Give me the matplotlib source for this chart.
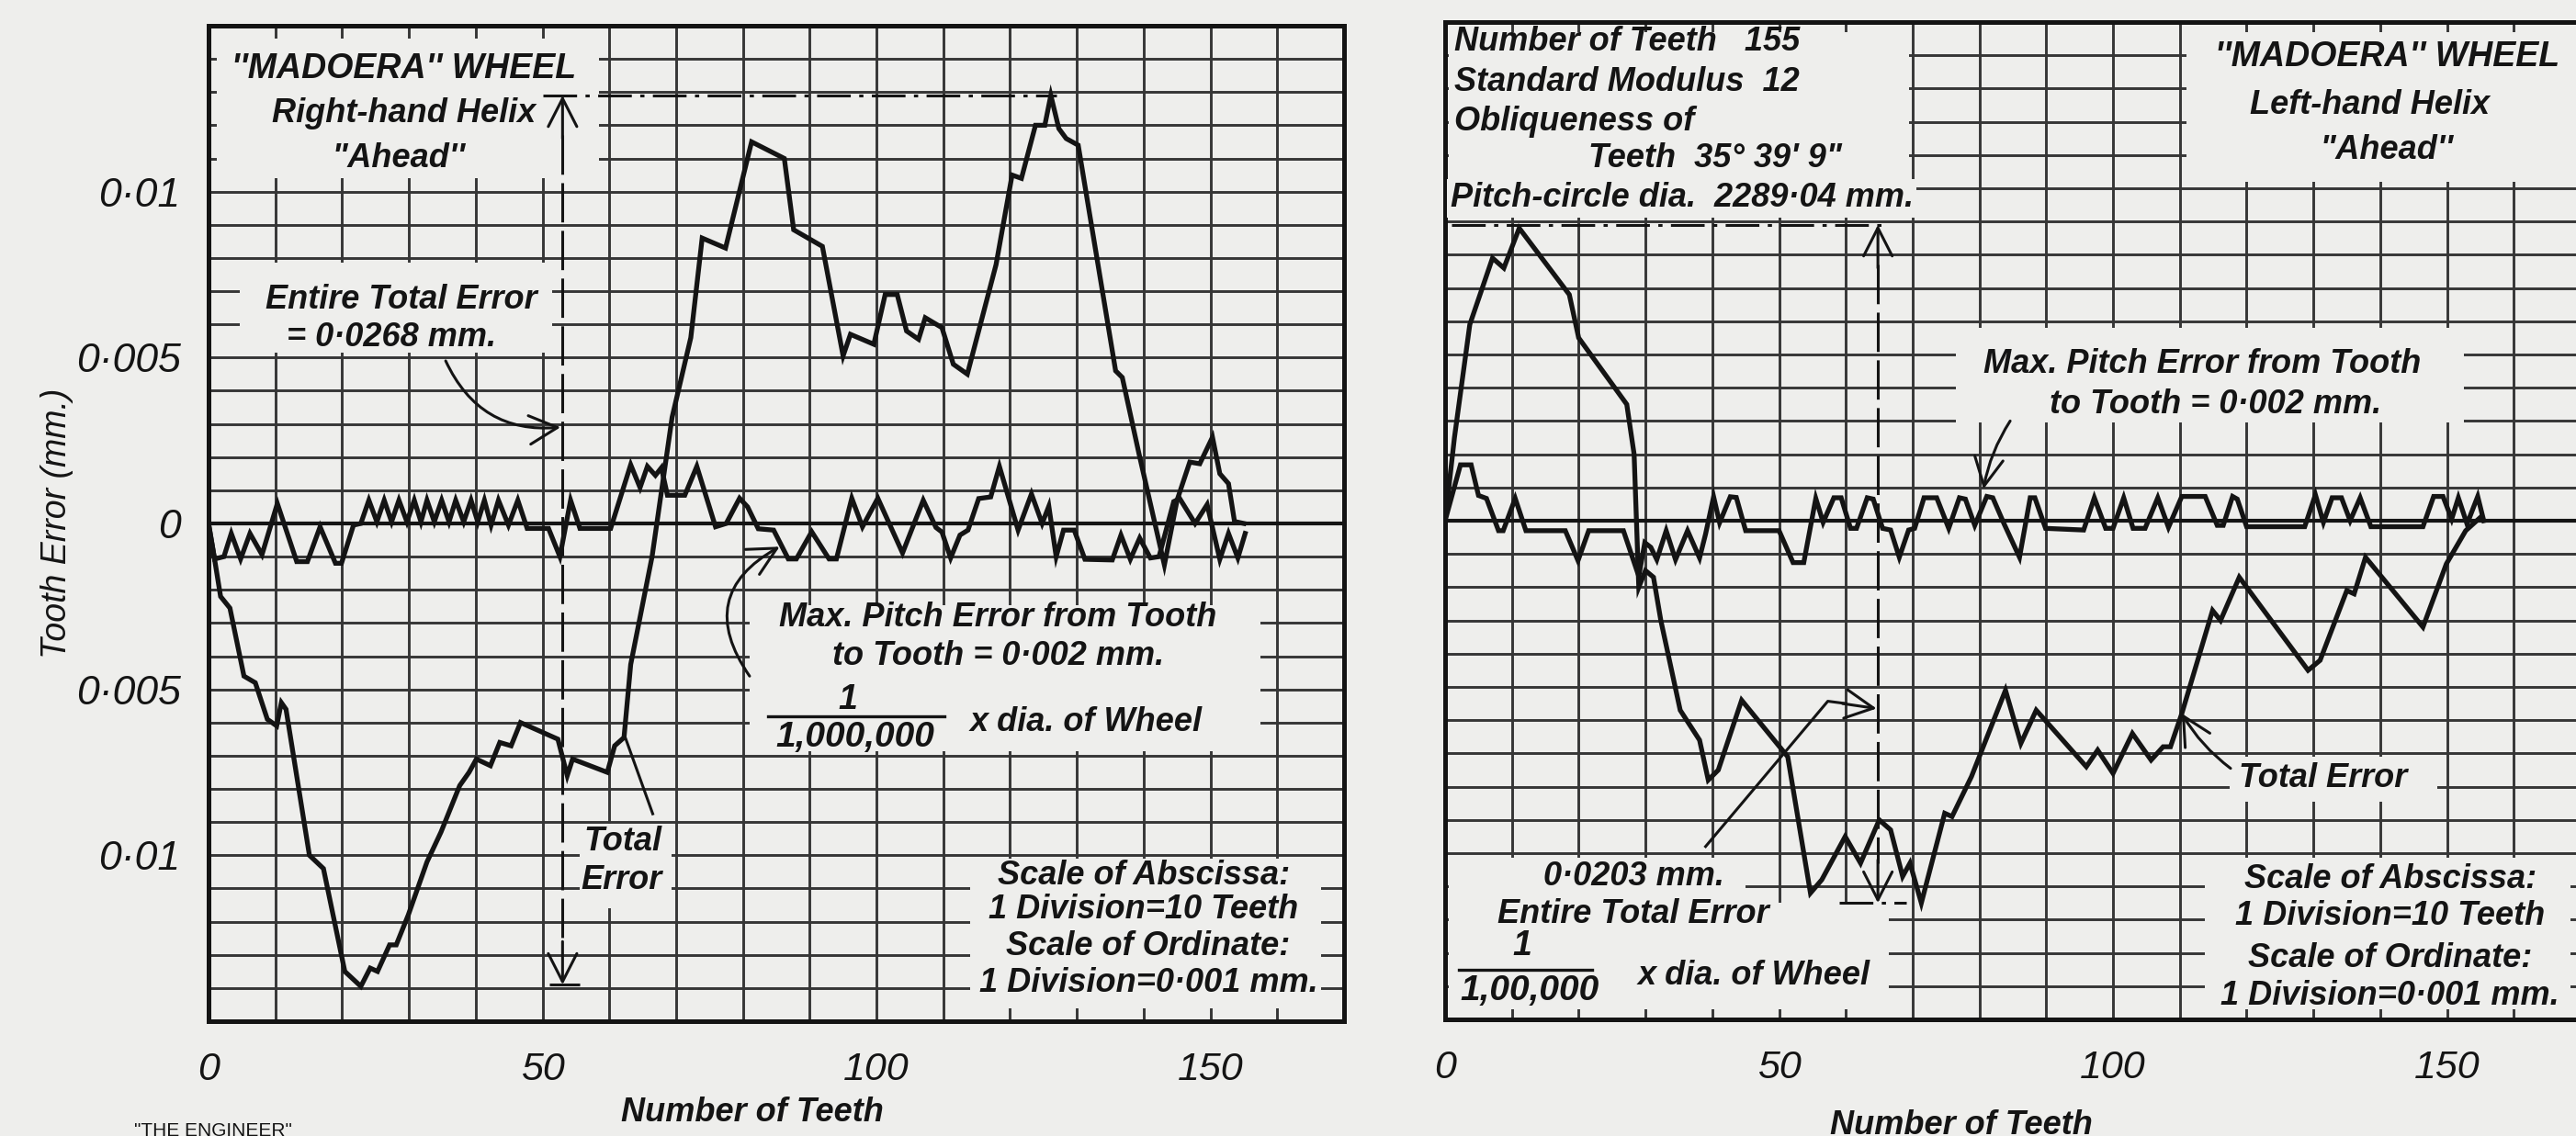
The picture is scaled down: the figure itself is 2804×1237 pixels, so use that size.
import numpy as np
import matplotlib.pyplot as plt
from matplotlib.patches import Rectangle

# readings off the two plates: (tooth number, error in 0.001 mm)
rh_total = [(0, 0), (1.0, -1.2), (1.8, -2.2), (3.2, -2.55), (5.3, -4.6), (7.0, -4.8), (8.8, -5.9),
            (10.2, -6.1), (10.9, -5.4), (11.6, -5.6), (15.1, -10.0), (17.2, -10.4), (20.4, -13.5),
            (22.8, -13.95), (24.2, -13.4), (25.3, -13.5), (27.1, -12.7), (28.1, -12.7), (29.9, -11.8),
            (32.7, -10.2), (34.8, -9.3), (37.6, -7.9), (39.0, -7.5), (40.1, -7.1), (42.2, -7.3),
            (43.6, -6.6), (45.3, -6.7), (46.7, -6.0), (52.3, -6.5), (53.7, -7.6), (54.5, -7.1),
            (59.7, -7.5), (60.8, -6.7), (62.2, -6.45), (63.2, -4.25), (66.4, -1.0), (69.4, 3.2),
            (72.2, 5.6), (73.9, 8.6), (77.4, 8.3), (81.3, 11.5), (86.2, 11.0), (87.6, 8.85),
            (91.9, 8.35), (95.0, 5.05), (96.1, 5.7), (99.6, 5.4), (101.3, 6.9), (103.1, 6.9),
            (104.5, 5.8), (106.3, 5.55), (107.3, 6.2), (109.8, 5.9), (111.5, 4.8), (113.6, 4.5),
            (117.9, 7.8), (120.3, 10.5), (121.7, 10.4), (123.8, 12.0), (125.2, 12.0), (126.1, 12.9),
            (127.3, 11.9), (128.4, 11.6), (130.2, 11.4), (135.8, 4.6), (136.8, 4.4), (139.3, 2.1),
            (143.1, -1.25), (145.0, 0.7), (146.9, 1.85), (148.4, 1.8), (150.3, 2.6), (151.4, 1.5),
            (152.7, 1.2), (153.6, 0.06), (155.0, 0)]

rh_pitch = [(0, 0), (0.9, -1.07), (2.3, -1.0), (3.4, -0.3), (4.8, -1.07), (6.2, -0.3), (8.0, -0.94),
            (10.3, 0.6), (13.2, -1.15), (14.8, -1.15), (16.7, -0.1), (19.0, -1.2), (19.9, -1.2),
            (21.7, -0.05), (22.8, 0.0), (24.0, 0.7), (25.2, 0.05), (26.3, 0.7), (27.4, 0.05),
            (28.5, 0.7), (29.7, 0.05), (30.8, 0.7), (31.8, 0.05), (32.7, 0.7), (33.8, 0.05),
            (34.9, 0.7), (36.0, 0.05), (37.0, 0.7), (38.2, 0.05), (39.3, 0.7), (40.3, 0.05),
            (41.3, 0.7), (42.3, -0.05), (43.4, 0.7), (44.9, -0.05), (46.3, 0.7), (47.7, -0.15),
            (50.9, -0.15), (52.6, -1.0), (54.2, 0.7), (55.6, -0.15), (60.2, -0.15), (63.2, 1.77),
            (64.6, 1.08), (65.7, 1.72), (66.9, 1.45), (67.8, 1.68), (68.7, 0.85), (71.3, 0.85),
            (73.1, 1.72), (75.9, -0.1), (77.5, 0.0), (79.5, 0.76), (80.7, 0.5), (82.3, -0.16),
            (84.6, -0.2), (86.8, -1.07), (88.0, -1.07), (90.3, -0.25), (92.9, -1.07), (94.0, -1.07),
            (96.3, 0.76), (97.9, -0.1), (100.2, 0.76), (103.9, -0.89), (107.0, 0.7), (108.9, -0.12),
            (109.8, -0.26), (111.1, -1.04), (112.5, -0.35), (113.7, -0.2), (115.3, 0.75),
            (117.1, 0.8), (118.4, 1.72), (121.2, -0.2), (123.2, 0.89), (124.8, 0.0), (125.8, 0.52),
            (126.9, -1.0), (128.0, -0.2), (129.6, -0.2), (131.2, -1.08), (135.3, -1.1),
            (136.6, -0.35), (138.0, -1.08), (139.4, -0.44), (141.0, -1.04), (142.3, -1.0),
            (144.5, 0.66), (145.4, 0.75), (147.7, 0.0), (149.5, 0.57), (151.4, -1.08),
            (152.7, -0.3), (154.1, -1.04), (155.2, -0.3)]

lh_total = [(0, 0), (1.4, 2.5), (3.7, 5.9), (7.1, 7.9), (8.8, 7.6), (11.1, 8.8), (18.6, 6.8),
            (20.0, 5.5), (27.2, 3.5), (28.3, 2.0), (29.0, -2.0), (30.0, -1.5), (31.2, -1.7),
            (32.3, -3.0), (35.2, -5.7), (38.1, -6.6), (39.4, -7.8), (40.9, -7.5), (44.4, -5.4),
            (51.3, -7.1), (54.7, -11.2), (56.4, -10.8), (59.9, -9.5), (62.2, -10.3), (65.0, -9.0),
            (66.7, -9.3), (68.5, -10.7), (69.6, -10.3), (71.3, -11.5), (74.8, -8.8), (75.9, -8.9),
            (78.8, -7.7), (83.9, -5.1), (86.2, -6.7), (88.5, -5.7), (96.0, -7.4), (97.7, -6.9),
            (100.0, -7.6), (102.9, -6.4), (105.7, -7.2), (107.5, -6.8), (108.6, -6.8),
            (110.3, -5.8), (114.9, -2.7), (116.1, -3.0), (118.9, -1.7), (129.2, -4.5),
            (131.0, -4.2), (135.0, -2.1), (136.1, -2.2), (137.8, -1.1), (146.4, -3.2),
            (149.9, -1.3), (152.8, -0.3), (155.0, 0.1)]

lh_pitch = [(0, 0), (2.3, 1.68), (3.9, 1.68), (5.0, 0.76), (6.2, 0.67), (8.0, -0.3), (8.7, -0.3),
            (10.5, 0.67), (12.1, -0.3), (18.0, -0.3), (19.9, -1.2), (21.5, -0.3), (26.7, -0.3),
            (29.0, -1.67), (29.9, -0.66), (30.8, -0.8), (31.7, -1.17), (33.1, -0.3), (34.5, -1.17),
            (36.3, -0.3), (38.1, -1.12), (39.0, -0.4), (40.2, 0.72), (41.1, -0.06), (42.7, 0.72),
            (43.6, 0.7), (45.0, -0.3), (50.0, -0.3), (52.1, -1.26), (53.7, -1.26), (55.5, 0.67),
            (56.6, -0.05), (58.2, 0.69), (59.3, 0.69), (60.7, -0.23), (61.6, -0.23), (63.2, 0.69),
            (64.1, 0.65), (65.5, -0.23), (66.7, -0.28), (68.0, -1.1), (69.4, -0.28), (70.3, -0.23),
            (71.7, 0.69), (73.6, 0.69), (75.4, -0.23), (77.0, 0.69), (77.9, 0.65), (79.3, -0.14),
            (81.1, 0.73), (82.0, 0.69), (83.7, -0.1), (86.0, -1.1), (87.6, 0.69), (88.3, 0.69),
            (89.9, -0.23), (95.6, -0.28), (97.2, 0.69), (98.9, -0.23), (100.0, -0.23),
            (101.6, 0.69), (103.0, -0.23), (104.8, -0.23), (106.7, 0.69), (108.3, -0.2),
            (110.3, 0.73), (113.8, 0.73), (115.6, -0.14), (116.5, -0.14), (117.9, 0.73),
            (118.6, 0.65), (120.0, -0.18), (128.7, -0.18), (130.3, 0.78), (131.5, -0.05),
            (132.8, 0.69), (134.2, 0.69), (135.5, 0.0), (137.0, 0.69), (138.6, -0.18),
            (146.4, -0.18), (148.0, 0.73), (149.4, 0.73), (150.7, 0.05), (151.7, 0.69),
            (153.0, -0.1), (154.6, 0.73), (155.5, 0.0)]

x_ticks = [0, 50, 100, 150]
x_ticklabels = ['0', '50', '100', '150']
y_ticks = [10, 5, 0, -5, -10]
y_ticklabels = ['0·01', '0·005', '0', '0·005', '0·01']

BG = '#eeeeec'
INK = '#141414'
GRID = '#363636'
plt.rcParams['font.family'] = ['Liberation Sans', 'DejaVu Sans']

fig = plt.figure(figsize=(28.04, 12.37), dpi=100, facecolor=BG)
axl = fig.add_axes([0.08096, 0.10105, 0.44080, 0.87631])
axr = fig.add_axes([0.56098, 0.10267, 0.44080, 0.87793])


def frame(ax, blanks):
    ax.set_facecolor(BG)
    ax.set_xlim(0, 170)
    ax.set_ylim(-15, 15)
    ax.set_xticks(x_ticks)
    ax.set_xticklabels(x_ticklabels, fontstyle='italic')
    ax.set_xticks(np.arange(0, 171, 10), minor=True)
    ax.set_yticks(np.arange(-15, 16, 1), minor=True)
    ax.grid(which='both', color=GRID, lw=2.1)
    ax.set_axisbelow(True)
    ax.tick_params(which='both', length=0)
    ax.tick_params(axis='x', pad=24, labelsize=31, colors=INK)
    for sp in ax.spines.values():
        sp.set_linewidth(3.6)
        sp.set_color(INK)
        sp.set_zorder(4)
    for x0, x1, y0, y1 in blanks:
        ax.add_patch(Rectangle((x0, y0), x1 - x0, y1 - y0, facecolor=BG,
                               edgecolor='none', zorder=1))
    ax.axhline(0, color=INK, lw=3.0, zorder=2)


def curve(ax, pts):
    t, v = np.array(pts).T
    ax.plot(t, v, color=INK, lw=3.8, solid_joinstyle='miter', zorder=3)


def say(ax, x, y, s, size=26, ha='center', weight='bold', box=False):
    kw = {}
    if box:
        kw['bbox'] = dict(boxstyle='square,pad=0.1', fc=BG, ec='none')
    ax.text(x, y, s, fontsize=size, ha=ha, va='center', fontweight=weight,
            fontstyle='italic', color=INK, zorder=5, **kw)


def arrow(ax, head, tail, rad=0.0, lw=2.2):
    ax.annotate('', xy=head, xytext=tail, zorder=5,
                arrowprops=dict(arrowstyle='->,head_length=0.55,head_width=0.28',
                                connectionstyle='arc3,rad=%s' % rad, color=INK,
                                lw=lw, shrinkA=0, shrinkB=0, mutation_scale=40))


def span(ax, x, top, bottom, x0a, x1a, x0b, x1b):
    ax.plot([x, x], [top - 1.2, bottom + 1.2], color=INK, lw=2.2, dashes=(14, 3), zorder=3)
    arrow(ax, (x, top), (x, top - 1.3))
    arrow(ax, (x, bottom), (x, bottom + 1.3))
    ax.plot([x0a, x1a], [top, top], color=INK, lw=2.2, dashes=(12, 3, 1.5, 3), zorder=3)
    ax.plot([x0b, x1b], [bottom, bottom], color=INK, lw=2.2, dashes=(12, 3, 1.5, 3), zorder=3)


# ---- right-hand helix plate ----
frame(axl, [(1.2, 58.5, 10.4, 14.6), (4.7, 51.5, 5.15, 7.85), (81.0, 157.5, -6.85, -2.45),
            (114.0, 166.5, -14.6, -10.1), (55.6, 69.3, -11.6, -9.05)])
axl.set_yticks(y_ticks)
axl.set_yticklabels(y_ticklabels, fontstyle='italic')
axl.tick_params(axis='y', pad=22, labelsize=32, colors=INK)
curve(axl, rh_total)
curve(axl, rh_pitch)
span(axl, 53, 12.9, -13.9, 50, 127, 51, 55.5)

say(axl, 29.3, 13.7, "''MADOERA'' WHEEL", size=27)
say(axl, 29.3, 12.35, 'Right-hand Helix')
say(axl, 28.5, 11.0, "''Ahead''")
say(axl, 28.8, 6.75, 'Entire Total Error')
say(axl, 27.4, 5.6, '= 0·0268 mm.')
arrow(axl, (52.7, 2.9), (35.5, 4.9), rad=0.35)
say(axl, 62.0, -9.6, 'Total')
say(axl, 61.8, -10.75, 'Error')
axl.plot([66.5, 62.3], [-8.75, -6.4], color=INK, lw=2.2, zorder=5)
say(axl, 118.2, -2.85, 'Max. Pitch Error from Tooth')
say(axl, 118.2, -4.0, 'to Tooth = 0·002 mm.')
arrow(axl, (85.5, -0.7), (81.0, -4.6), rad=-0.55)
say(axl, 95.7, -5.3, '1', size=27)
axl.plot([83.8, 110.1], [-5.8, -5.8], color=INK, lw=2.4, zorder=5)
say(axl, 96.8, -6.45, '1,000,000', size=28)
say(axl, 114.0, -6.0, 'x dia. of Wheel', ha='left')
say(axl, 140.0, -10.6, 'Scale of Abscissa:')
say(axl, 140.0, -11.65, '1 Division=10 Teeth')
say(axl, 140.7, -12.75, 'Scale of Ordinate:')
say(axl, 140.7, -13.85, '1 Division=0·001 mm.')

axl.set_xlabel('Number of Teeth', fontsize=26, fontweight='bold', fontstyle='italic',
               color=INK, va='center')
axl.xaxis.set_label_coords(0.479, -0.092)
axl.set_ylabel('Tooth Error (mm.)', fontsize=27, fontstyle='italic', color=INK, va='center')
axl.yaxis.set_label_coords(-0.1335, 0.5)

# ---- left-hand helix plate ----
frame(axr, [(0.6, 69.4, 9.25, 14.7), (111.0, 170, 10.2, 14.7), (76.5, 152.5, 2.95, 5.8),
            (0.6, 45.0, -11.5, -10.15), (0.6, 66.5, -14.7, -11.5),
            (113.8, 168.5, -14.7, -10.15), (117.5, 148.5, -8.45, -7.1)])
axr.set_yticks([])
curve(axr, lh_total)
curve(axr, lh_pitch)
span(axr, 64.8, 8.9, -11.5, 1, 66, 59, 69)

say(axr, 1.4, 14.4, 'Number of Teeth   155', ha='left')
say(axr, 1.4, 13.2, 'Standard Modulus  12', ha='left')
say(axr, 1.4, 12.0, 'Obliqueness of', ha='left')
say(axr, 21.4, 10.9, 'Teeth  35° 39\' 9"', ha='left')
say(axr, 0.8, 9.7, 'Pitch-circle dia.  2289·04 mm.', ha='left', box=True)
say(axr, 141.0, 13.95, "''MADOERA'' WHEEL", size=27)
say(axr, 138.5, 12.5, 'Left-hand Helix')
say(axr, 141.0, 11.15, "''Ahead''")
say(axr, 113.3, 4.7, 'Max. Pitch Error from Tooth')
say(axr, 115.3, 3.5, 'to Tooth = 0·002 mm.')
arrow(axr, (80.6, 0.95), (84.6, 3.0), rad=0.1)
say(axr, 28.2, -10.7, '0·0203 mm.')
say(axr, 28.2, -11.85, 'Entire Total Error')
axr.plot([39.0, 57.3, 60.0], [-9.8, -5.43, -5.5], color=INK, lw=2.2, zorder=5)
arrow(axr, (64.6, -5.65), (59.5, -5.5))
say(axr, 11.6, -12.8, '1', size=27)
axr.plot([2.0, 22.0], [-13.5, -13.5], color=INK, lw=2.4, zorder=5)
say(axr, 12.6, -14.15, '1,00,000', size=28)
say(axr, 28.8, -13.7, 'x dia. of Wheel', ha='left')
say(axr, 118.8, -7.75, 'Total Error', ha='left')
arrow(axr, (110.3, -5.8), (117.6, -7.45), rad=-0.1)
say(axr, 141.5, -10.8, 'Scale of Abscissa:')
say(axr, 141.5, -11.9, '1 Division=10 Teeth')
say(axr, 141.5, -13.15, 'Scale of Ordinate:')
say(axr, 141.5, -14.3, '1 Division=0·001 mm.')

axr.set_xlabel('Number of Teeth', fontsize=26, fontweight='bold', fontstyle='italic',
               color=INK, va='center')
axr.xaxis.set_label_coords(0.455, -0.106)

fig.text(0.052, 0.012, '"THE ENGINEER"', fontsize=15, color=INK, va='top')

fig.savefig('out.png', dpi=100, facecolor=BG)
